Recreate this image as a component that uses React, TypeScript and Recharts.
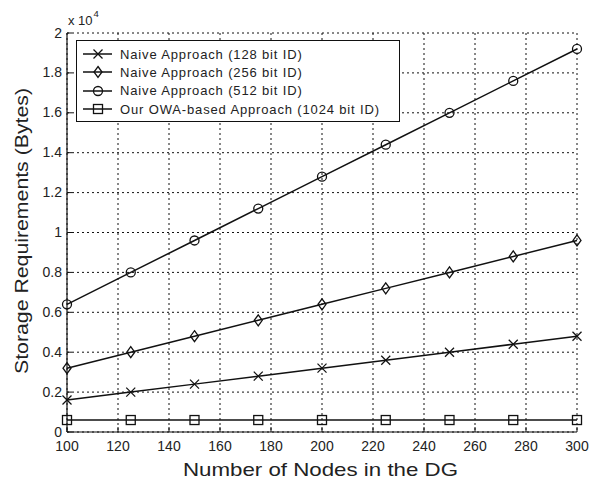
import React from "react";
import { LineChart, Line, XAxis, YAxis, CartesianGrid, Legend } from "recharts";

const NODES = [100, 125, 150, 175, 200, 225, 250, 275, 300];
const NAIVE_128 = [1600, 2000, 2400, 2800, 3200, 3600, 4000, 4400, 4800];
const NAIVE_256 = [3200, 4000, 4800, 5600, 6400, 7200, 8000, 8800, 9600];
const NAIVE_512 = [6400, 8000, 9600, 11200, 12800, 14400, 16000, 17600, 19200];
const OWA_1024 = [600, 600, 600, 600, 600, 600, 600, 600, 600];

const X_TICKS = [100, 120, 140, 160, 180, 200, 220, 240, 260, 280, 300];
const Y_TICKS = [0, 2000, 4000, 6000, 8000, 10000, 12000, 14000, 16000, 18000, 20000];
const Y_TICK_LABELS = ["0", "0.2", "0.4", "0.6", "0.8", "1", "1.2", "1.4", "1.6", "1.8", "2"];

const SERIES = [
  { key: "naive128", name: "Naive Approach (128 bit ID)", marker: "cross" },
  { key: "naive256", name: "Naive Approach (256 bit ID)", marker: "diamond" },
  { key: "naive512", name: "Naive Approach (512 bit ID)", marker: "circle" },
  { key: "owa1024", name: "Our OWA-based Approach (1024 bit ID)", marker: "square" },
];

const data = NODES.map((n, i) => ({
  nodes: n,
  naive128: NAIVE_128[i],
  naive256: NAIVE_256[i],
  naive512: NAIVE_512[i],
  owa1024: OWA_1024[i],
}));

const INK = "#111";
const TEXT = "#222";
const FONT = "'Liberation Sans', Arial, sans-serif";

function Marker({ shape, cx, cy }: { shape: string; cx: number; cy: number }) {
  const s = { stroke: INK, strokeWidth: 1.3, fill: "none" };
  if (shape === "cross")
    return (
      <g>
        <line x1={cx - 4.5} y1={cy - 4.5} x2={cx + 4.5} y2={cy + 4.5} {...s} />
        <line x1={cx - 4.5} y1={cy + 4.5} x2={cx + 4.5} y2={cy - 4.5} {...s} />
      </g>
    );
  if (shape === "diamond")
    return <polygon points={`${cx},${cy - 5.5} ${cx + 4},${cy} ${cx},${cy + 5.5} ${cx - 4},${cy}`} {...s} />;
  if (shape === "circle") return <circle cx={cx} cy={cy} r={4.5} {...s} />;
  return <rect x={cx - 4.5} y={cy - 4.5} width={9} height={9} {...s} />;
}

// MATLAB style ticks point into the plot
const BottomTick = ({ x, y, payload }: any) => (
  <g>
    <line x1={x} x2={x} y1={y} y2={y - 5} stroke={INK} />
    <text x={x} y={y + 19} textAnchor="middle" fill={TEXT} fontSize={14} fontFamily={FONT}>
      {payload.value}
    </text>
  </g>
);

const TopTick = ({ x, y }: any) => <line x1={x} x2={x} y1={y} y2={y + 5} stroke={INK} />;

const LeftTick = ({ x, y, payload }: any) => (
  <g>
    <line x1={x} x2={x + 5} y1={y} y2={y} stroke={INK} />
    <text x={x - 5} y={y + 4.5} textAnchor="end" fill={TEXT} fontSize={14} fontFamily={FONT}>
      {Y_TICK_LABELS[Y_TICKS.indexOf(payload.value)]}
    </text>
  </g>
);

const RightTick = ({ x, y }: any) => <line x1={x} x2={x - 5} y1={y} y2={y} stroke={INK} />;

function LegendBox() {
  return (
    <div
      style={{
        width: 322,
        height: 76,
        paddingTop: 4,
        border: `1px solid ${INK}`,
        background: "#fff",
        fontFamily: FONT,
        fontSize: 13,
        color: TEXT,
      }}
    >
      {SERIES.map((s) => (
        <div key={s.key} style={{ height: 18.3, display: "flex", alignItems: "center" }}>
          <svg width={43} height={18} style={{ flex: "none" }}>
            <line x1={6} x2={35} y1={9} y2={9} stroke={INK} strokeWidth={1.5} />
            <Marker shape={s.marker} cx={21} cy={9} />
          </svg>
          <span style={{ letterSpacing: 0.85, whiteSpace: "nowrap" }}>{s.name}</span>
        </div>
      ))}
    </div>
  );
}

const YTitle = () => (
  <g>
    <text
      x={28}
      y={231}
      transform="rotate(-90 28 231)"
      textAnchor="middle"
      fill={TEXT}
      fontSize={19}
      fontFamily={FONT}
      textLength={286}
      lengthAdjust="spacingAndGlyphs"
    >
      Storage Requirements (Bytes)
    </text>
    <text x={68} y={25} fill={TEXT} fontSize={13} fontFamily={FONT}>
      x 10
      <tspan dx={1} dy={-8} fontSize={9.5}>
        4
      </tspan>
    </text>
  </g>
);

export default function App() {
  return (
    <div style={{ position: "absolute", left: 0, top: 0, width: 589, height: 482, background: "#fff" }}>
      <LineChart width={589} height={482} data={data} margin={{ top: 33, right: 12, bottom: 0, left: 0 }}>
        <CartesianGrid stroke={INK} strokeDasharray="2 3" strokeWidth={1} />
        <XAxis
          dataKey="nodes"
          type="number"
          domain={[100, 300]}
          ticks={X_TICKS}
          height={50}
          tickSize={0}
          tickMargin={0}
          tick={<BottomTick />}
          axisLine={{ stroke: INK, strokeWidth: 1.2 }}
          label={() => (
            <text
              x={320.5}
              y={476}
              textAnchor="middle"
              fill={TEXT}
              fontSize={19}
              fontFamily={FONT}
              textLength={275}
              lengthAdjust="spacingAndGlyphs"
            >
              Number of Nodes in the DG
            </text>
          )}
        />
        <XAxis
          xAxisId="top"
          orientation="top"
          dataKey="nodes"
          type="number"
          domain={[100, 300]}
          ticks={X_TICKS}
          height={0}
          tickSize={0}
          tickMargin={0}
          tick={<TopTick />}
          axisLine={{ stroke: INK, strokeWidth: 1.2 }}
        />
        <YAxis
          type="number"
          domain={[0, 20000]}
          ticks={Y_TICKS}
          width={67}
          tickSize={0}
          tickMargin={0}
          tick={<LeftTick />}
          axisLine={{ stroke: INK, strokeWidth: 1.2 }}
          label={() => <YTitle />}
        />
        <YAxis
          yAxisId="right"
          orientation="right"
          type="number"
          domain={[0, 20000]}
          ticks={Y_TICKS}
          width={0}
          tickSize={0}
          tickMargin={0}
          tick={<RightTick />}
          axisLine={{ stroke: INK, strokeWidth: 1.2 }}
        />
        {SERIES.map((s) => (
          <Line
            key={s.key}
            dataKey={s.key}
            name={s.name}
            type="linear"
            stroke={INK}
            strokeWidth={1.5}
            isAnimationActive={false}
            dot={(p: any) => <Marker key={`${s.key}-${p.index}`} shape={s.marker} cx={p.cx} cy={p.cy} />}
            activeDot={false}
          />
        ))}
        <Legend
          layout="vertical"
          align="center"
          verticalAlign="middle"
          wrapperStyle={{ top: 40, left: 76, width: 324, height: 82 }}
          content={() => <LegendBox />}
        />
      </LineChart>
    </div>
  );
}
